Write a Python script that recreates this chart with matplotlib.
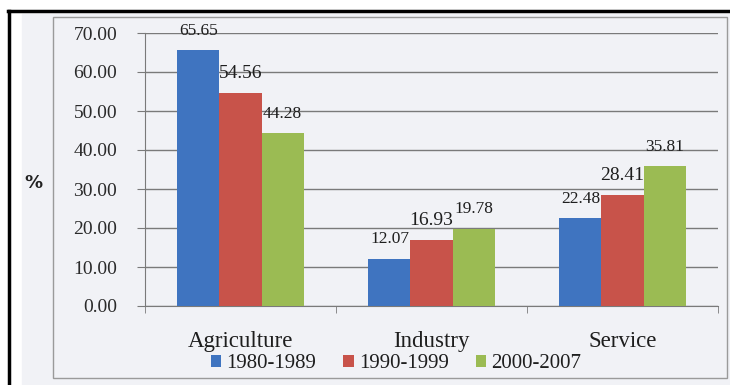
import matplotlib
matplotlib.use("Agg")
import matplotlib.pyplot as plt
from matplotlib.patches import Rectangle
from matplotlib.lines import Line2D
import numpy as np

# ─── Data: share of labour by sector (%) ─────────────────────────────────────
SECTORS = ["Agriculture", "Industry", "Service"]
PERIODS = ["1980-1989", "1990-1999", "2000-2007"]
P1980 = [65.65, 12.07, 22.48]
P1990 = [54.56, 16.93, 28.41]
P2000 = [44.28, 19.78, 35.81]
YTICKS = [0, 10, 20, 30, 40, 50, 60, 70]

COLORS = ["#3f74c0", "#c8534a", "#9bbb53"]
LABEL_SIZES = [12.5, 14, 12.5]
BG = "#f1f2f6"

W, H = 730, 385
plt.rcParams["font.family"] = ["Liberation Serif", "DejaVu Serif"]

fig = plt.figure(figsize=(W / 100, H / 100), dpi=100, facecolor="white")

def px(x, y):
    return x / W, 1 - y / H

# slide background, black border and inner chart frame
fig.add_artist(Rectangle(px(22, 385), (730 - 22) / W, (385 - 14) / H,
                         transform=fig.transFigure, color=BG, zorder=0))
fig.add_artist(Line2D([8 / W, 1], [1 - 11 / H] * 2, transform=fig.transFigure,
                      color="black", lw=2.5))
fig.add_artist(Line2D([9 / W] * 2, [0, 1 - 11 / H], transform=fig.transFigure,
                      color="black", lw=2.5))
fig.add_artist(Rectangle(px(53, 378), (727 - 53) / W, (378 - 17) / H,
                         transform=fig.transFigure, fill=False,
                         edgecolor="#9a9a9a", lw=1.0))

ax = fig.add_axes([145 / W, 1 - 306 / H, (718 - 145) / W, (306 - 33) / H])
ax.set_facecolor(BG)

x = np.arange(len(SECTORS))
w = 0.22
series = [P1980, P1990, P2000]
for i, (vals, name) in enumerate(zip(series, PERIODS)):
    xi = x + (i - 1) * w
    ax.bar(xi, vals, width=w, color=COLORS[i], label=name, zorder=3)
    for xv, v in zip(xi, vals):
        ax.annotate(f"{v:.2f}", (xv, v), xytext=(0, 14), textcoords="offset points",
                    ha="center", va="center", fontsize=LABEL_SIZES[i],
                    color="#1e1e1e", zorder=4)

ax.set_xlim(-0.5, 2.5)
ax.set_ylim(0, 70)
ax.set_yticks(YTICKS)
ax.set_yticklabels([f"{t:.2f}" for t in YTICKS], fontsize=14, color="#2a2a2a")
ax.grid(axis="y", color="#7a7a7a", lw=1.0, zorder=1)
ax.tick_params(axis="y", direction="out", length=6, color="#7a7a7a", pad=14)

ax.set_xticks(x)
ax.set_xticklabels(SECTORS, fontsize=16.5, color="#1e1e1e")
ax.set_xticks([-0.5, 0.5, 1.5, 2.5], minor=True)
ax.tick_params(axis="x", which="major", length=0, pad=18)
ax.tick_params(axis="x", which="minor", direction="out", length=5, color="#7a7a7a")

for s in ["top", "right"]:
    ax.spines[s].set_visible(False)
for s in ["left", "bottom"]:
    ax.spines[s].set_color("#7a7a7a")

fig.text(*px(33, 183), "%", fontsize=13, fontweight="bold",
         family="DejaVu Sans", color="#222222", ha="center", va="center")

fig.legend(loc="center", bbox_to_anchor=px(396, 364), ncol=3, frameon=False,
           fontsize=15, handlelength=0.5, handleheight=0.5, handletextpad=0.25,
           columnspacing=1.3, labelcolor="#1e1e1e")

plt.savefig("out.png", dpi=100, facecolor="white")
